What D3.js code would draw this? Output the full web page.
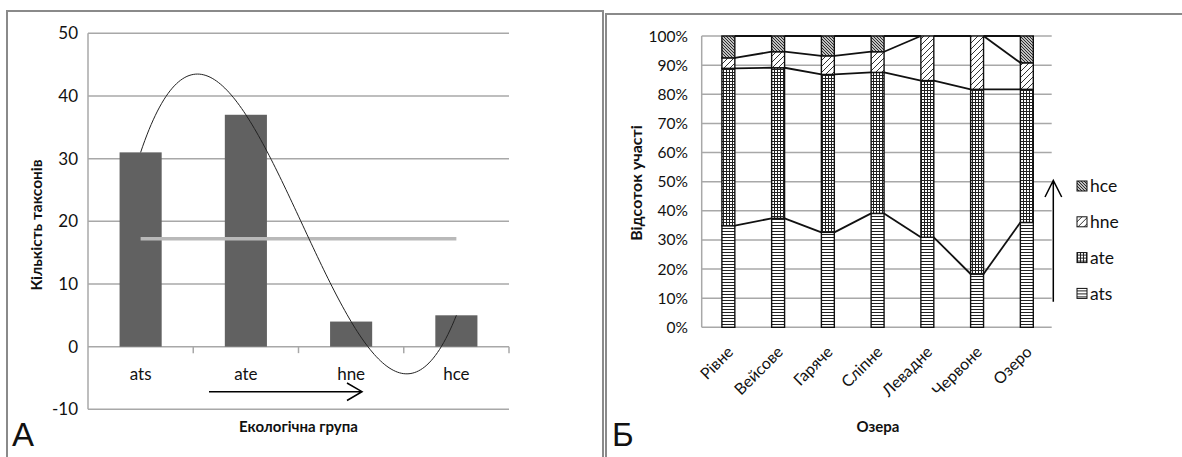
<!DOCTYPE html>
<html>
<head>
<meta charset="utf-8">
<script src="https://cdn.jsdelivr.net/npm/d3@7/dist/d3.min.js"></script>
<style>
  html, body { margin: 0; padding: 0; background: #fff; }
  svg { display: block; }
  text { font-family: Lato, "Open Sans", sans-serif; fill: #111; }
</style>
</head>
<body>
<svg id="chart" width="1182" height="457"></svg>
<script>
// ---- Panel А: taxa count per ecological group ----
const ecoGroups = ["ats", "ate", "hne", "hce"];
const taxaCounts = [31, 37, 4, 5];
const referenceLevel = [17.2];
const countTicks = [-10, 0, 10, 20, 30, 40, 50];

// ---- Panel Б: share of each group per lake (%) ----
const lakes = ["Рівне", "Вейсове", "Гаряче", "Сліпне", "Левадне", "Червоне", "Озеро"];
const groupKeys = ["ats", "ate", "hne", "hce"];
const atsShare = [34.9, 37.4, 32.6, 39.1, 30.9, 18.3, 36.0];
const ateShare = [54.0, 51.7, 54.2, 48.4, 53.8, 63.4, 45.7];
const hneShare = [3.6, 5.5, 6.4, 7.1, 15.3, 18.3, 9.1];
const hceShare = [7.5, 5.4, 6.8, 5.4, 0, 0, 9.2];
const pctTicks = [0, 10, 20, 30, 40, 50, 60, 70, 80, 90, 100];

const svg = d3.select("#chart");
const gridColor = "#a8a8a8";
const frameColor = "#8a8a8a";

// panel frames
svg.append("path").attr("d", "M7,458V11H603V458")
  .attr("fill", "none").attr("stroke", frameColor).attr("stroke-width", 2);
svg.append("path").attr("d", "M606,458V14H1183")
  .attr("fill", "none").attr("stroke", frameColor).attr("stroke-width", 2);

// ---------- Panel А ----------
(function () {
  const left = 88, right = 509, top = 33.3, bottom = 409.3;
  const g = svg.append("g");
  const y = d3.scaleLinear().domain([-10, 50]).range([bottom, top]);
  const x = d3.scaleBand().domain(ecoGroups).range([left, right])
    .paddingInner(0.6).paddingOuter(0.3);
  const step = x.step();

  // horizontal gridlines
  g.selectAll(".grid").data(countTicks).join("line")
    .attr("x1", left).attr("x2", right)
    .attr("y1", d => y(d)).attr("y2", d => y(d))
    .attr("stroke", gridColor).attr("stroke-width", 1.5);

  // y axis line
  g.append("line").attr("x1", left).attr("x2", left)
    .attr("y1", top).attr("y2", bottom)
    .attr("stroke", gridColor).attr("stroke-width", 1.5);

  // category tick marks at group boundaries on the zero line
  g.selectAll(".ctick").data(ecoGroups).join("line")
    .attr("x1", d => x(d) + x.bandwidth() / 2 + step / 2)
    .attr("x2", d => x(d) + x.bandwidth() / 2 + step / 2)
    .attr("y1", y(0)).attr("y2", y(0) + 6.5)
    .attr("stroke", gridColor).attr("stroke-width", 1.5);

  // y tick labels
  g.selectAll(".ylab").data(countTicks).join("text")
    .attr("x", 78).attr("y", d => y(d)).attr("dy", "0.36em")
    .attr("text-anchor", "end").attr("font-size", 17)
    .text(d => d);

  // bars
  g.selectAll(".bar").data(ecoGroups).join("rect")
    .attr("x", d => x(d)).attr("width", x.bandwidth())
    .attr("y", (d, i) => y(taxaCounts[i]))
    .attr("height", (d, i) => y(0) - y(taxaCounts[i]))
    .attr("fill", "#616161");

  // reference level line across the group centres
  const cx = d => x(d) + x.bandwidth() / 2;
  g.selectAll(".ref").data(referenceLevel).join("line")
    .attr("x1", cx(ecoGroups[0])).attr("x2", cx(ecoGroups[ecoGroups.length - 1]))
    .attr("y1", d => y(d)).attr("y2", d => y(d))
    .attr("stroke", "#b9b9b9").attr("stroke-width", 3.5);

  // polynomial trend (order 3, least squares) over the group counts
  function polyFit(xs, ys, deg) {
    const n = deg + 1;
    const A = Array.from({ length: n }, () => new Array(n + 1).fill(0));
    xs.forEach((xv, k) => {
      for (let r = 0; r < n; r++) {
        for (let c = 0; c < n; c++) A[r][c] += Math.pow(xv, r + c);
        A[r][n] += ys[k] * Math.pow(xv, r);
      }
    });
    for (let i = 0; i < n; i++) {
      let p = i;
      for (let r = i + 1; r < n; r++) if (Math.abs(A[r][i]) > Math.abs(A[p][i])) p = r;
      [A[i], A[p]] = [A[p], A[i]];
      for (let r = 0; r < n; r++) {
        if (r === i) continue;
        const f = A[r][i] / A[i][i];
        for (let c = i; c <= n; c++) A[r][c] -= f * A[i][c];
      }
    }
    return A.map((row, i) => row[n] / row[i]);
  }
  const idx = ecoGroups.map((d, i) => i + 1);
  const coef = polyFit(idx, taxaCounts, 3);
  const evalPoly = t => coef.reduce((s, c, p) => s + c * Math.pow(t, p), 0);
  const tx = d3.scaleLinear().domain([1, ecoGroups.length])
    .range([cx(ecoGroups[0]), cx(ecoGroups[ecoGroups.length - 1])]);
  const trend = d3.range(1, ecoGroups.length + 1e-9, 0.02).map(t => [tx(t), y(evalPoly(t))]);
  g.append("path").attr("d", d3.line()(trend))
    .attr("fill", "none").attr("stroke", "#222").attr("stroke-width", 1);

  // category labels
  g.selectAll(".xlab").data(ecoGroups).join("text")
    .attr("x", d => cx(d)).attr("y", 380)
    .attr("text-anchor", "middle").attr("font-size", 17)
    .text(d => d);

  // direction arrow
  g.append("path").attr("d", "M209,391.7H362M347,383L362,391.7L347,400.5")
    .attr("fill", "none").attr("stroke", "#000").attr("stroke-width", 1.5);

  // axis titles
  g.append("text").attr("x", (left + right) / 2).attr("y", 432)
    .attr("text-anchor", "middle").attr("font-size", 15).attr("font-weight", "bold")
    .text("Екологічна група");
  g.append("text").attr("transform", "translate(42,225) rotate(-90)")
    .attr("text-anchor", "middle").attr("font-size", 15.5).attr("font-weight", "bold")
    .text("Кількість таксонів");

  g.append("text").attr("x", 12).attr("y", 446)
    .style("font-family", "'Liberation Sans', Arial, sans-serif")
    .attr("font-size", 33).text("А");
})();

// ---------- Panel Б ----------
(function () {
  const left = 701.7, right = 1051.7, top = 36, bottom = 327.3;
  const g = svg.append("g");
  const defs = svg.append("defs");

  // fill patterns for the four groups
  const pAts = defs.append("pattern").attr("id", "pat-ats")
    .attr("patternUnits", "userSpaceOnUse").attr("width", 4).attr("height", 3);
  pAts.append("rect").attr("width", 4).attr("height", 3).attr("fill", "#fff");
  pAts.append("rect").attr("y", 0).attr("width", 4).attr("height", 1).attr("fill", "#222");

  const pAte = defs.append("pattern").attr("id", "pat-ate")
    .attr("patternUnits", "userSpaceOnUse").attr("width", 3).attr("height", 3);
  pAte.append("rect").attr("width", 3).attr("height", 3).attr("fill", "#fff");
  pAte.append("rect").attr("width", 3).attr("height", 1).attr("fill", "#222");
  pAte.append("rect").attr("width", 1).attr("height", 3).attr("fill", "#222");

  const pHne = defs.append("pattern").attr("id", "pat-hne")
    .attr("patternUnits", "userSpaceOnUse").attr("width", 6).attr("height", 6);
  pHne.append("rect").attr("width", 6).attr("height", 6).attr("fill", "#fff");
  pHne.append("path").attr("d", "M0,6L6,0M-1,1L1,-1M5,7L7,5")
    .attr("stroke", "#333").attr("stroke-width", 1);

  const pHce = defs.append("pattern").attr("id", "pat-hce")
    .attr("patternUnits", "userSpaceOnUse").attr("width", 3).attr("height", 3);
  pHce.append("rect").attr("width", 3).attr("height", 3).attr("fill", "#fff");
  pHce.append("path").attr("d", "M0,0L3,3M-1,2L1,4M2,-1L4,1")
    .attr("stroke", "#222").attr("stroke-width", 1.1);

  const patFor = { ats: "url(#pat-ats)", ate: "url(#pat-ate)", hne: "url(#pat-hne)", hce: "url(#pat-hce)" };

  const y = d3.scaleLinear().domain([0, 100]).range([bottom, top]);
  const x = d3.scaleBand().domain(lakes).range([703.5, right])
    .paddingInner(0.74).paddingOuter(0.37);

  // gridlines
  g.selectAll(".grid").data(pctTicks).join("line")
    .attr("x1", left).attr("x2", right)
    .attr("y1", d => y(d)).attr("y2", d => y(d))
    .attr("stroke", gridColor).attr("stroke-width", 1.5);
  g.append("line").attr("x1", left).attr("x2", left)
    .attr("y1", top).attr("y2", bottom)
    .attr("stroke", gridColor).attr("stroke-width", 1.5);

  g.selectAll(".ylab").data(pctTicks).join("text")
    .attr("x", 688).attr("y", d => y(d)).attr("dy", "0.36em")
    .attr("text-anchor", "end").attr("font-size", 15.5)
    .text(d => d + "%");

  // stacked bars
  const rows = lakes.map((lake, i) => ({
    lake, ats: atsShare[i], ate: ateShare[i], hne: hneShare[i], hce: hceShare[i]
  }));
  const stacked = d3.stack().keys(groupKeys)(rows);

  // series lines joining the segment tops of neighbouring bars
  stacked.forEach(layer => {
    const segs = [];
    for (let i = 0; i < lakes.length - 1; i++) {
      segs.push([[x(lakes[i]) + x.bandwidth(), y(layer[i][1])],
                 [x(lakes[i + 1]), y(layer[i + 1][1])]]);
    }
    g.selectAll(null).data(segs).join("line")
      .attr("x1", d => d[0][0]).attr("y1", d => d[0][1])
      .attr("x2", d => d[1][0]).attr("y2", d => d[1][1])
      .attr("stroke", "#111").attr("stroke-width", 1.8);
  });

  stacked.forEach(layer => {
    g.selectAll(null).data(layer.filter(d => d[1] - d[0] > 0)).join("rect")
      .attr("x", d => x(d.data.lake)).attr("width", x.bandwidth())
      .attr("y", d => y(d[1])).attr("height", d => y(d[0]) - y(d[1]))
      .attr("fill", patFor[layer.key])
      .attr("stroke", "#111").attr("stroke-width", 1.4);
  });

  // rotated lake names
  g.selectAll(".xlab").data(lakes).join("text")
    .attr("transform", d => `translate(${x(d) + x.bandwidth() / 2 + 2},349) rotate(-45)`)
    .attr("text-anchor", "end").attr("dy", "0.35em").attr("font-size", 16)
    .text(d => d);

  // legend (top group first)
  const legendOrder = groupKeys.slice().reverse();
  const lg = g.selectAll(".leg").data(legendOrder).join("g")
    .attr("transform", (d, i) => `translate(1077,${186 + i * 35.8})`);
  lg.append("rect").attr("x", 0).attr("y", -5).attr("width", 10).attr("height", 10)
    .attr("fill", d => patFor[d]).attr("stroke", "#111").attr("stroke-width", 1);
  lg.append("text").attr("x", 13).attr("dy", "0.36em").attr("font-size", 17.5)
    .text(d => d);

  // upward arrow beside the legend
  g.append("path").attr("d", "M1053.3,301.7V180.5M1045,197L1053.3,180.5L1061.7,197")
    .attr("fill", "none").attr("stroke", "#000").attr("stroke-width", 1.5);

  // titles
  g.append("text").attr("x", 878).attr("y", 432)
    .attr("text-anchor", "middle").attr("font-size", 15).attr("font-weight", "bold")
    .text("Озера");
  g.append("text").attr("transform", "translate(642,183) rotate(-90)")
    .attr("text-anchor", "middle").attr("font-size", 16).attr("font-weight", "bold")
    .text("Відсоток участі");

  g.append("text").attr("x", 612).attr("y", 446)
    .style("font-family", "'Liberation Sans', Arial, sans-serif")
    .attr("font-size", 33).text("Б");
})();
</script>
</body>
</html>
